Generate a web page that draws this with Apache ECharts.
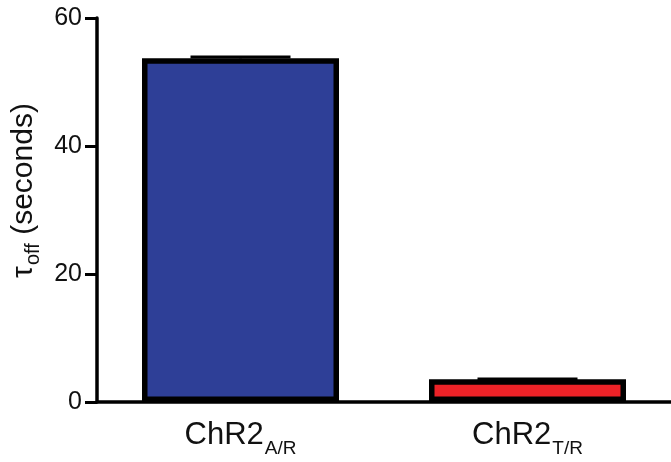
<!DOCTYPE html>
<html>
<head>
<meta charset="utf-8">
<script src="https://cdn.jsdelivr.net/npm/echarts@6/dist/echarts.min.js"></script>
<style>
  html, body { margin: 0; padding: 0; background: #fff; }
  #chart { width: 671px; height: 462px; }
</style>
</head>
<body>
<div id="chart"></div>
<script>
// Channel variants: main label and subscript
const categories = ['ChR2 A/R', 'ChR2 T/R'];
// Mean off-kinetics time constant (seconds) and its error
const tauOff = [53.7, 3.55];
const tauErr = [0.2, 0.06];
const barColors = ['#2e3f97', '#ec2227'];
const yTicks = [0, 20, 40, 60];

const FONT = '"Liberation Sans", Arial, Helvetica, sans-serif';
const chart = echarts.init(document.getElementById('chart'), null, { renderer: 'canvas' });

const option = {
  animation: false,
  grid: { left: 97, right: 0, top: 18, bottom: 60, containLabel: false, outerBoundsMode: 'none' },
  xAxis: {
    type: 'category',
    data: categories,
    axisLine: { lineStyle: { color: '#000', width: 3.5 } },
    axisTick: { alignWithLabel: true, length: 12, lineStyle: { color: '#000', width: 3 } },
    axisLabel: {
      margin: 15,
      color: '#111',
      fontFamily: FONT,
      formatter: function (v) {
        const parts = v.split(' ');
        return '{m|' + parts[0] + '}{s|' + parts[1] + '}';
      },
      rich: {
        m: { fontSize: 31, fontFamily: FONT, color: '#111', lineHeight: 36 },
        s: { fontSize: 19, fontFamily: FONT, color: '#111', lineHeight: 19, padding: [28, 0, 0, 1] }
      }
    },
    splitLine: { show: false }
  },
  yAxis: {
    type: 'value',
    min: yTicks[0],
    max: yTicks[yTicks.length - 1],
    interval: yTicks[1] - yTicks[0],
    name: '{m|τ}{s|off}{m| (seconds)}',
    nameLocation: 'middle',
    nameRotate: 90,
    nameGap: 55,
    nameTextStyle: {
      fontFamily: FONT,
      color: '#111',
      padding: [0, 0, 0, 39],
      rich: {
        m: { fontSize: 30, fontFamily: FONT, color: '#111', lineHeight: 36 },
        s: { fontSize: 20, fontFamily: FONT, color: '#111', lineHeight: 20, padding: [19, 0, 0, 1] }
      }
    },
    axisLine: { show: true, lineStyle: { color: '#000', width: 3.5 } },
    axisTick: { show: true, length: 12, lineStyle: { color: '#000', width: 3 } },
    axisLabel: { margin: 15, fontSize: 25, fontFamily: FONT, color: '#111' },
    splitLine: { show: false }
  },
  series: [
    {
      type: 'bar',
      barWidth: 197,
      data: tauOff.map((v, i) => ({
        value: v,
        itemStyle: { color: barColors[i], borderColor: '#000', borderWidth: 5.5 }
      })),
      z: 2
    },
    {
      // Error bar caps above each bar
      type: 'custom',
      z: 3,
      data: tauOff.map((v, i) => [i, v, v + tauErr[i]]),
      renderItem: function (params, api) {
        const base = api.coord([api.value(0), api.value(1)]);
        const top = api.coord([api.value(0), api.value(2)]);
        const half = 50;
        return {
          type: 'group',
          children: [
            { type: 'line', shape: { x1: top[0], y1: base[1], x2: top[0], y2: top[1] }, style: { stroke: '#000', lineWidth: 3 } },
            { type: 'line', shape: { x1: top[0] - half, y1: top[1], x2: top[0] + half, y2: top[1] }, style: { stroke: '#000', lineWidth: 3 } }
          ]
        };
      }
    }
  ]
};
chart.setOption(option);
</script>
</body>
</html>
